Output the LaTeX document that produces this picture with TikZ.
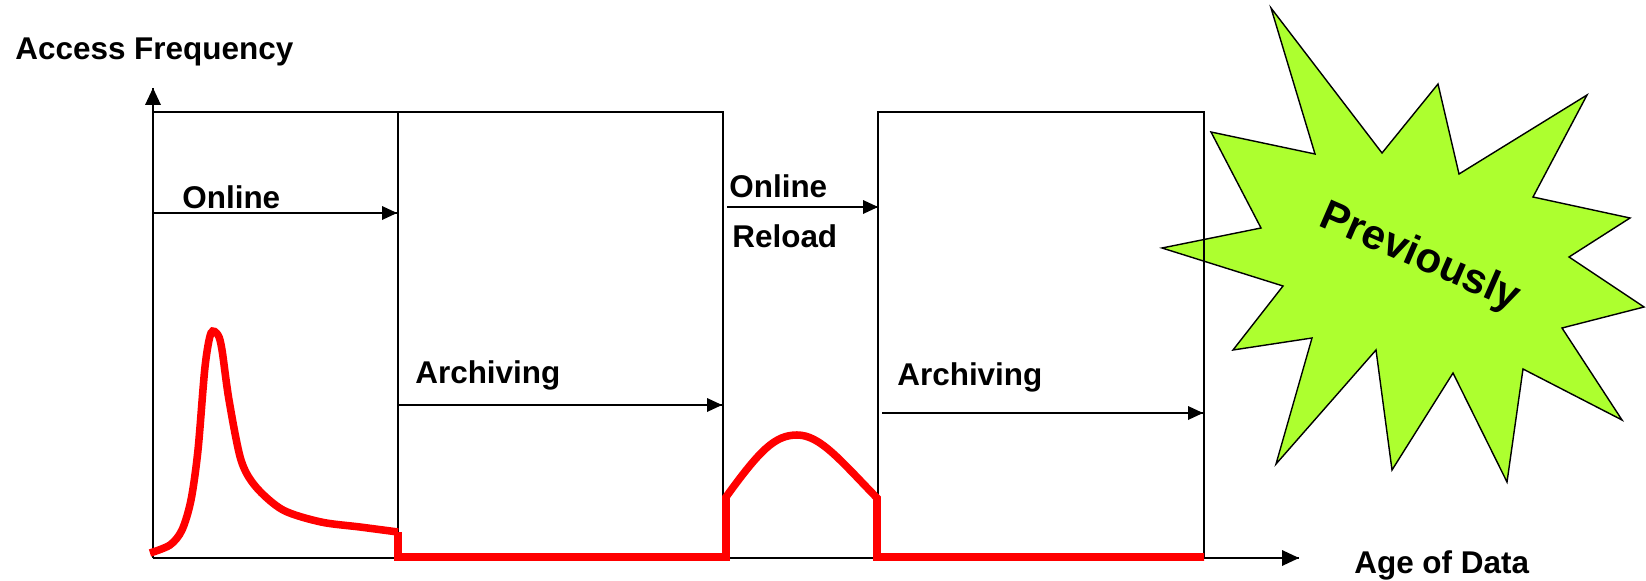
\documentclass[tikz,border=0pt]{standalone}
\usepackage{fontspec}
\setmainfont{Liberation Sans}
\usepackage{tikz}
\definecolor{burst}{RGB}{173,255,47}

\begin{document}
\begin{tikzpicture}[x=0.02cm, y=0.02cm]
\tikzstyle{every node}+=[inner sep=0pt]
\tikzstyle{lbl}=[font=\bfseries\fontsize{17.9}{20}\selectfont, anchor=base west]
\useasboundingbox (0,0) rectangle (1646,-581);
% starburst
\draw [black, line width=0.8pt, fill=burst] (1271,-8) -- (1382,-153) -- (1438,-84) -- (1459,-174) -- (1587,-95) -- (1533,-197) -- (1630,-218) -- (1569,-257) -- (1644,-307) -- (1562,-328) -- (1622,-420) -- (1523,-369) -- (1507,-482) -- (1453,-373) -- (1392,-470) -- (1376,-350) -- (1276,-464) -- (1312,-338) -- (1233,-350) -- (1283,-286) -- (1162,-248) -- (1261,-228) -- (1211,-132) -- (1315,-154) -- cycle;
\node [font=\bfseries\fontsize{24}{28}\selectfont, rotate=-23.5] (prev) at (1420,-258) {Previously};
% axes
\coordinate (O) at (153,-558);
\coordinate (ytip) at (153,-88);
\coordinate (xtip) at (1299,-558);
\draw [black, line width=1.4pt] (O) -- (ytip);
\fill [black] (ytip) -- ++(-8,-17) -- ++(16,0) -- cycle;
\draw [black, line width=1.4pt] (O) -- (xtip);
\fill [black] (xtip) -- ++(-17,8) -- ++(0,-16) -- cycle;
% frames
\draw [black, line width=1.4pt] (153,-112) -- (723,-112) -- (723,-558);
\draw [black, line width=1.4pt] (398,-112) -- (398,-558);
\draw [black, line width=1.4pt] (878,-558) -- (878,-112) -- (1204,-112) -- (1204,-558);
% phase arrows
\coordinate (on1a) at (153,-213);
\coordinate (on1b) at (397,-213);
\coordinate (on2a) at (727,-207);
\coordinate (on2b) at (878,-207);
\coordinate (ar1a) at (398,-405);
\coordinate (ar1b) at (722,-405);
\coordinate (ar2a) at (882,-413);
\coordinate (ar2b) at (1203,-413);
\draw [black, line width=1.1pt] (on1a) -- (on1b);
\fill [black] (on1b) -- ++(-15,7) -- ++(0,-14) -- cycle;
\draw [black, line width=1.1pt] (on2a) -- (on2b);
\fill [black] (on2b) -- ++(-15,7) -- ++(0,-14) -- cycle;
\draw [black, line width=1.1pt] (ar1a) -- (ar1b);
\fill [black] (ar1b) -- ++(-15,7) -- ++(0,-14) -- cycle;
\draw [black, line width=1.1pt] (ar2a) -- (ar2b);
\fill [black] (ar2b) -- ++(-15,7) -- ++(0,-14) -- cycle;
% labels
\node [lbl] (freq) at (15,-60) {Access Frequency};
\node [lbl] (online) at (182,-208) {Online};
\node [lbl] (online2) at (729,-197) {Online};
\node [lbl] (reload) at (732,-247) {Reload};
\node [lbl] (arch) at (415,-383) {Archiving};
\node [lbl] (arch2) at (897,-385) {Archiving};
\node [lbl] (age) at (1354,-573) {Age of Data};
% access curve
\draw [red, line width=4.3pt] plot [smooth, tension=0.5] coordinates {(150,-553) (170,-545) (182,-530) (191,-500) (198,-450) (205,-367) (211,-333) (218,-335) (222,-350) (229,-400) (241,-460) (256,-487) (283,-510) (321,-522) (360,-527) (398,-532)};
\draw [red, line width=4.3pt] (398,-532) -- (398,-557) -- (726,-557) -- (726,-497) .. controls (760,-450) and (775,-435) .. (797,-435) .. controls (820,-435) and (840,-460) .. (877,-498) -- (877,-557) -- (1204,-557);
\end{tikzpicture}
\end{document}
